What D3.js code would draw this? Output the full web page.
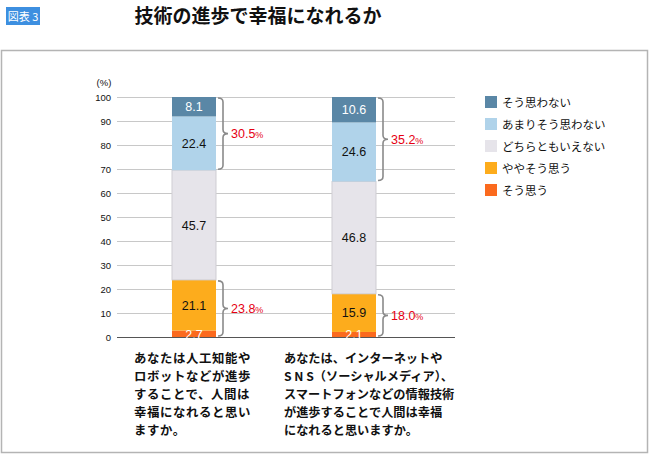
<!DOCTYPE html>
<html>
<head>
<meta charset="utf-8">
<script src="https://cdn.jsdelivr.net/npm/d3@7"></script>
<style>
  body { margin: 0; background: #fff; }
  svg { display: block; font-family: "Noto Sans CJK JP", "Noto Sans", sans-serif; }
</style>
</head>
<body>
<svg id="chart" width="650" height="456"></svg>
<script>
// data
const categories = ["ai", "it"];
const questionLines = [
    ["あなたは人工知能や", "ロボットなどが進歩", "することで、人間は", "幸福になれると思い", "ますか。"],
    ["あなたは、インターネットや", "S N S（ソーシャルメディア）、", "スマートフォンなどの情報技術", "が進歩することで人間は幸福", "になれると思いますか。"]
];
const seriesNames = ["そう思う", "ややそう思う", "どちらともいえない", "あまりそう思わない", "そう思わない"];
const soOmou      = [2.7, 2.1];
const yayaSoOmou  = [21.1, 15.9];
const dochiraTomo = [45.7, 46.8];
const amariOmowanai = [22.4, 24.6];
const soOmowanai  = [8.1, 10.6];
const positiveTotal = [23.8, 18.0];
const negativeTotal = [30.5, 35.2];
const yTicks = [0, 10, 20, 30, 40, 50, 60, 70, 80, 90, 100];

const seriesValues = [soOmou, yayaSoOmou, dochiraTomo, amariOmowanai, soOmowanai];
const colors = ["#fb6a1e", "#fdac1c", "#e6e4ea", "#b0d3ea", "#5a87a6"];
const labelColors = ["#fff", "#111", "#111", "#111", "#fff"];

const svg = d3.select("#chart");

// frame
svg.append("rect")
    .attr("x", 1.5).attr("y", 50.5).attr("width", 646).attr("height", 402)
    .attr("fill", "none").attr("stroke", "#b4b4b4").attr("stroke-width", 1.5);

// badge + title
svg.append("rect").attr("x", 6).attr("y", 7).attr("width", 34).attr("height", 18).attr("fill", "#3d8fe0");
svg.append("text").attr("x", 23).attr("y", 20.5).attr("text-anchor", "middle")
    .attr("fill", "#fff").style("font-size", "11px").text("図表 3");
svg.append("text").attr("x", 258).attr("y", 23).attr("text-anchor", "middle")
    .attr("fill", "#111").style("font-size", "19px").style("font-weight", "bold")
    .text("技術の進歩で幸福になれるか");

const x = d3.scaleBand().domain(categories).range([114, 434]);
const y = d3.scaleLinear().domain([0, 100]).range([337, 97]);
const barW = 44;

// grid
svg.append("g").selectAll("line").data(yTicks.filter(d => d > 0)).join("line")
    .attr("x1", 117).attr("x2", 455)
    .attr("y1", d => y(d) + 0.5).attr("y2", d => y(d) + 0.5)
    .attr("stroke", "#c8c8c8").attr("stroke-width", 1);

// y axis
const yAxis = svg.append("g").attr("transform", "translate(117,0)")
    .call(d3.axisLeft(y).tickValues(yTicks).tickSize(0).tickPadding(6));
yAxis.select(".domain").remove();
yAxis.selectAll("text").attr("fill", "#111").style("font-size", "9.5px")
    .style("font-family", "Liberation Sans, Arial, sans-serif");
svg.append("text").attr("x", 104).attr("y", 86).attr("text-anchor", "middle")
    .attr("fill", "#111").style("font-size", "9.5px")
    .style("font-family", "Liberation Sans, Arial, sans-serif").text("(%)");

// stacked bars
const rows = categories.map((c, i) => {
    const r = { cat: c };
    seriesNames.forEach((s, j) => r[s] = seriesValues[j][i]);
    return r;
});
const stacked = d3.stack().keys(seriesNames)(rows);

const barsG = svg.append("g");
stacked.forEach((layer, j) => {
    barsG.append("g").selectAll("rect").data(layer).join("rect")
        .attr("x", d => x(d.data.cat) + x.bandwidth() / 2 - barW / 2)
        .attr("y", d => y(d[1]))
        .attr("width", barW)
        .attr("height", d => y(d[0]) - y(d[1]))
        .attr("fill", colors[j])
        .attr("stroke", j === 2 ? "#cfcdd3" : "none");
});

// baseline
svg.append("line").attr("x1", 117).attr("x2", 455)
    .attr("y1", y(0) + 0.5).attr("y2", y(0) + 0.5)
    .attr("stroke", "#555").attr("stroke-width", 1.2);

// value labels (on top of baseline)
stacked.forEach((layer, j) => {
    svg.append("g").selectAll("text").data(layer).join("text")
        .attr("x", d => x(d.data.cat) + x.bandwidth() / 2)
        .attr("y", d => j === 0 ? y(d[0]) + 1.5 : (y(d[0]) + y(d[1])) / 2 + 4.5)
        .attr("text-anchor", "middle")
        .attr("fill", labelColors[j])
        .style("font-size", "12.5px")
        .style("font-family", "Liberation Sans, Arial, sans-serif")
        .text(d => d3.format(".1f")(d[1] - d[0]));
});

// braces
function brace(x0, yTop, yBot) {
    const xm = x0 + 5, xp = x0 + 10, mid = (yTop + yBot) / 2, r = 4;
    return `M${x0},${yTop} Q${xm},${yTop} ${xm},${yTop + r} L${xm},${mid - 4} Q${xm},${mid} ${xp},${mid}`
        + ` Q${xm},${mid} ${xm},${mid + 4} L${xm},${yBot - r} Q${xm},${yBot} ${x0},${yBot}`;
}
function pctLabel(xPos, yPos, v) {
    const t = svg.append("text").attr("x", xPos).attr("y", yPos + 4.5)
        .attr("fill", "#e60012").style("font-size", "12.5px")
        .style("font-family", "Liberation Sans, Arial, sans-serif");
    t.append("tspan").text(d3.format(".1f")(v));
    t.append("tspan").style("font-size", "9px").text("%");
}
categories.forEach((c, i) => {
    const bx = x(c) + x.bandwidth() / 2 + barW / 2 + 2;
    const topLow = 100 - negativeTotal[i];
    svg.append("path").attr("d", brace(bx, y(100) + 1, y(topLow) - 1))
        .attr("fill", "none").attr("stroke", "#8a8a8a").attr("stroke-width", 1.6);
    pctLabel(bx + 13, (y(100) + y(topLow)) / 2, negativeTotal[i]);
    svg.append("path").attr("d", brace(bx, y(positiveTotal[i]) + 1, y(0) - 1))
        .attr("fill", "none").attr("stroke", "#8a8a8a").attr("stroke-width", 1.6);
    pctLabel(bx + 13, (y(positiveTotal[i]) + y(0)) / 2, positiveTotal[i]);
});

// question texts
const qX = [134, 284];
const qSize = ["12.4px", "12.2px"];
const qSpacing = ["0.6px", "0px"];
questionLines.forEach((lines, i) => {
    svg.append("g").selectAll("text").data(lines).join("text")
        .attr("x", qX[i]).attr("y", (d, k) => 362.5 + k * 18)
        .attr("fill", "#111").style("font-size", qSize[i]).style("font-weight", "bold")
        .style("letter-spacing", qSpacing[i])
        .text(d => d);
});

// legend
const legendOrder = seriesNames.map((s, j) => j).reverse();
const lg = svg.append("g").attr("transform", "translate(485,96)");
legendOrder.forEach((j, k) => {
    lg.append("rect").attr("x", 0).attr("y", k * 22).attr("width", 12).attr("height", 12)
        .attr("fill", colors[j]);
    lg.append("text").attr("x", 17).attr("y", k * 22 + 10.5)
        .attr("fill", "#111").style("font-size", "11.5px").text(seriesNames[j]);
});
</script>
</body>
</html>
